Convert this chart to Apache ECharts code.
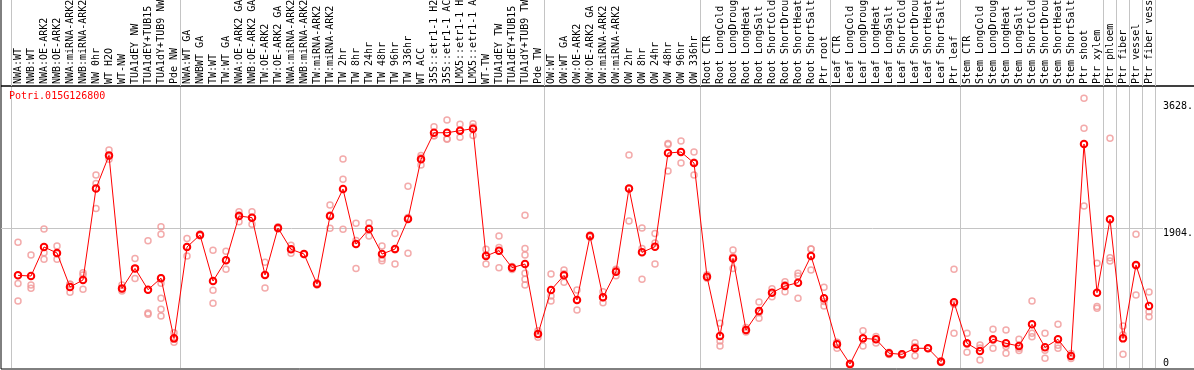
<!DOCTYPE html>
<html><head><meta charset="utf-8">
<script src="https://cdn.jsdelivr.net/npm/echarts@6/dist/echarts.min.js"></script>
<style>html,body{margin:0;padding:0;background:#fff}#c{width:1194px;height:370px}</style>
</head><body><div id="c"></div>
<script>
const geneId = 'Potri.015G126800';

const categories = [
 'NWA:WT','NWB:WT','NWA:OE-ARK2','NWB:OE-ARK2','NWA:miRNA-ARK2','NWB:miRNA-ARK2','NW 0hr','WT H2O','WT-NW','TUA1dEY NW','TUA1dEY+TUB15 NW','TUA1dY+TUB9 NW','Pde NW',
 'NWA:WT GA','NWBWT GA','TW:WT','TW:WT GA','NWA:OE-ARK2 GA','NWB:OE-ARK2 GA','TW:OE-ARK2','TW:OE-ARK2 GA','NWA:miRNA-ARK2','NWB:miRNA-ARK2','TW:miRNA-ARK2','TW:miRNA-ARK2',
 'TW 2hr','TW 8hr','TW 24hr','TW 48hr','TW 96hr','TW 336hr','WT ACC','35S::etr1-1 H2O','35S::etr1-1 ACC','LMX5::etr1-1 H2O','LMX5::etr1-1 ACC','WT-TW','TUA1dEY TW','TUA1dEY+TUB15 TW','TUA1dY+TUB9 TW','Pde TW',
 'OW:WT','OW:WT GA','OW:OE-ARK2','OW:OE-ARK2 GA','OW:miRNA-ARK2','OW:miRNA-ARK2','OW 2hr','OW 8hr','OW 24hr','OW 48hr','OW 96hr','OW 336hr',
 'Root CTR','Root LongCold','Root LongDrought','Root LongHeat','Root LongSalt','Root ShortCold','Root ShortDrought','Root ShortHeat','Root ShortSalt','Ptr root',
 'Leaf CTR','Leaf LongCold','Leaf LongDrought','Leaf LongHeat','Leaf LongSalt','Leaf ShortCold','Leaf ShortDrought','Leaf ShortHeat','Leaf ShortSalt','Ptr leaf',
 'Stem CTR','Stem LongCold','Stem LongDrought','Stem LongHeat','Stem LongSalt','Stem ShortCold','Stem ShortDrought','Stem ShortHeat','Stem ShortSalt','Ptr shoot','Ptr xylem',
 'Ptr phloem','Ptr fiber','Ptr vessel','Ptr fiber vessel'
];

const meanValues = [
 1260,1251,1646,1564,1102,1197,2443,2892,1083,1355,1065,1222,403,
 1646,1809,1183,1464,2067,2045,1265,1904,1614,1550,1142,2067,
 2434,1686,1890,1550,1618,2026,2838,3200,3200,3228,3255,1523,1596,1365,1414,462,
 1061,1260,925,1795,961,1310,2443,1573,1650,2924,2938,2788,
 1242,435,1491,517,775,1024,1115,1161,1523,948,
 322,54,403,390,200,186,268,268,86,893,
 336,231,390,336,299,594,281,390,163,3046,1024,
 2022,403,1401,843
];

const replicateValues = [
 [1709,1151,911],[1537,1129,1084],[1890,1568,1478],[1659,1555,1478],[1138,1140,1029],[1297,1265,1070],[2625,2511,2171],[2965,2838,2875],[1129,1047,1075],[1491,1219,1355],[1731,749,730],[1922,1818,1228,1152,948,798,707],[481,349,390],
 [1763,1523,1650],[1823,1800,1805],[1600,1056,879],[1587,1342,1464],[2126,1990,2080],[2126,1954,2050],[1437,1088,1270],[1920,1890,1904],[1668,1560,1614],[1550,1545,1555],[1160,1130,1140],[2217,1900,2080],
 [2842,2566,1886],[1968,1735,1355],[1976,1795,1900],[1659,1491,1460],[1831,1414,1610],[2471,1560,2047],[2892,2761,2860],[3282,3160,3158],[3373,3110,3117],[3314,3137,3233],[3323,3164,3278],[1614,1414,1540],[1795,1640,1365],[1380,1340,1375],[2076,1627,1537,1288,1206,1129],[507,417,462],
 [1278,979,911],[1333,1165,1282],[1061,789,925],[1810,1780,1795],[1038,889,956],[1330,1256,1344],[2897,1999,2433],[1904,1627,1206],[1831,1700,1414],[3055,2679,3040],[3087,2788,2940],[2938,2625,2800],
 [1270,1220,1236],[608,367,299],[1605,1355,1513],[550,490,511],[898,675,752],[1079,970,1023],[1174,1038,1133],[1288,1250,948],[1618,1333,1618],[1097,843,904],
 [350,268,348],[40,60,62],[508,299,402],[430,340,400],[215,185,200],[190,175,193],[344,168,292],[270,265,269],[100,75,83],[1342,471,866],
 [471,213,324],[313,109,271],[526,268,376],[517,200,291],[390,268,239],[911,471,426],[471,132,240],[594,268,308],[163,130,196],[3668,3260,2203],[1424,836,812],
 [3124,1500,1455],[571,186,452],[1818,993,1392],[1034,766,698]
];

const yTickLabels = [0, 1904, 3628];
const yGridValues = [1904];
const groupStarts = [0, 13, 41, 53, 63, 73, 84, 85, 86, 87];
const yMax = 3822;

const repPoints = [];
replicateValues.forEach((reps, i) => reps.forEach(v => repPoints.push([i, v])));

const FONT = 'DejaVu Sans Mono';
const GRAY = '#c4c4c4';
const sepLine = {show: true, interval: (idx) => groupStarts.indexOf(idx) >= 0, lineStyle: {color: GRAY, width: 1}};

const chart = echarts.init(document.getElementById('c'), null, {renderer: 'canvas'});
chart.setOption({
  animation: false,
  backgroundColor: '#fff',
  title: {text: geneId, left: 9, top: 91, padding: 0,
    textStyle: {color: '#ff0000', fontSize: 10, fontWeight: 'normal', fontFamily: FONT}},
  grid: [
    {left: 11.5, right: 38.5, top: 87, bottom: 2, outerBoundsMode: 'none'},
    {left: 11.5, right: 38.5, top: 0, height: 86, outerBoundsMode: 'none'},
    {left: 1, right: 31, top: 87, bottom: 2, outerBoundsMode: 'none'},
    {left: 1, right: -2, top: -1, height: 87, show: true, borderColor: '#000', borderWidth: 1, backgroundColor: 'transparent', outerBoundsMode: 'none'},
    {left: 1, right: -2, top: 86, bottom: 1, show: true, borderColor: '#000', borderWidth: 1, backgroundColor: 'transparent', outerBoundsMode: 'none'}
  ],
  xAxis: [
    {gridIndex: 0, type: 'category', data: categories, position: 'top', boundaryGap: true,
      axisLine: {show: false}, axisTick: {show: false},
      axisLabel: {interval: 0, rotate: 90, margin: 3, fontFamily: FONT, fontSize: 10, color: '#000', hideOverlap: false},
      splitLine: sepLine},
    {gridIndex: 1, type: 'category', data: categories, boundaryGap: true,
      axisLine: {show: false}, axisTick: {show: false}, axisLabel: {show: false}, splitLine: sepLine},
    {gridIndex: 2, type: 'value', show: false},
    {gridIndex: 3, type: 'value', show: false},
    {gridIndex: 4, type: 'value', show: false}
  ],
  yAxis: [
    {gridIndex: 0, type: 'value', min: 0, max: yMax, show: false},
    {gridIndex: 1, type: 'value', show: false},
    {gridIndex: 2, type: 'value', min: 0, max: yMax, position: 'right',
      axisLine: {show: false},
      axisTick: {show: false, customValues: yGridValues},
      axisLabel: {customValues: yTickLabels, formatter: v => v === 0 ? '0' : v + '.', margin: 0, align: 'left',
        verticalAlign: 'top', verticalAlignMinLabel: 'bottom', verticalAlignMaxLabel: 'top',
        fontFamily: FONT, fontSize: 10, color: '#000'},
      splitLine: {show: true, lineStyle: {color: GRAY, width: 1}}},
    {gridIndex: 3, type: 'value', show: false},
    {gridIndex: 4, type: 'value', show: false}
  ],
  series: [
    {type: 'scatter', xAxisIndex: 0, yAxisIndex: 0, data: repPoints, symbol: 'circle', symbolSize: 6, silent: true, z: 2,
      itemStyle: {color: 'rgba(0,0,0,0)', borderColor: '#f09696', borderWidth: 1.5}},
    {type: 'line', xAxisIndex: 0, yAxisIndex: 0, data: meanValues, symbol: 'circle', symbolSize: 6.5, showAllSymbol: true, silent: true, z: 3,
      lineStyle: {color: '#ff0000', width: 1},
      itemStyle: {color: 'rgba(0,0,0,0)', borderColor: '#ff0000', borderWidth: 2}}
  ]
});
</script>
</body></html>
